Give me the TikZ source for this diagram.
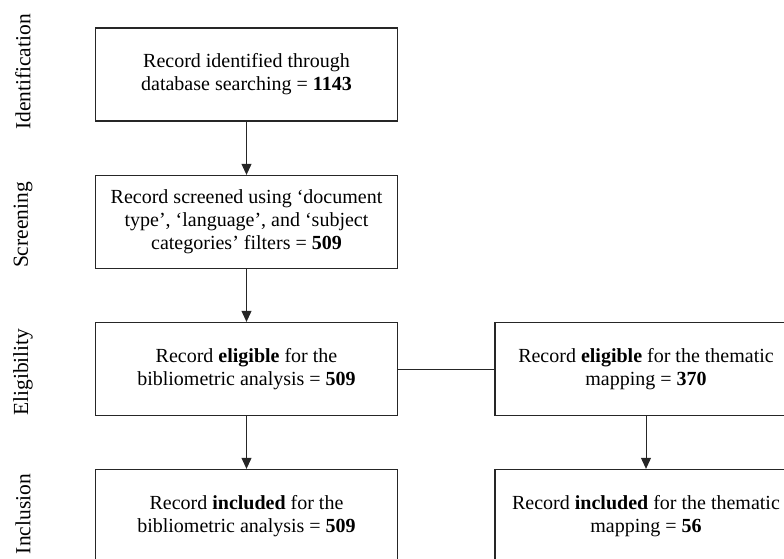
\documentclass[tikz,border=0pt]{standalone}
\usepackage{fontspec}
\setmainfont{Liberation Serif}
\usetikzlibrary{arrows.meta}
\tikzset{
  box/.style={draw=black!85, line width=1.3pt, rectangle, minimum width=302pt, minimum height=93pt, align=center, inner sep=0pt, font=\fontsize{20}{23}\selectfont},
  arr/.style={draw=black!85, line width=0.9pt, -{Triangle[width=10pt,length=11pt]}},
  link/.style={draw=black!85, line width=0.9pt},
  stage/.style={rotate=90, font=\fontsize{21.5}{24}\selectfont, inner sep=0pt}
}
\begin{document}
\begin{tikzpicture}[x=1pt,y=-1pt]
\useasboundingbox (0,0) rectangle (784,559);
\clip (0,0) rectangle (784,559);
\node[box] (b1) at (246.5,74.5) {Record identified through\\database searching = \textbf{1143}};
\node[box] (b2) at (246.5,222) {Record screened using ‘document\\type’, ‘language’, and ‘subject\\categories’ filters = \textbf{509}};
\node[box] (b3) at (246.5,369) {Record \textbf{eligible} for the\\bibliometric analysis = \textbf{509}};
\node[box] (b4) at (246.5,516) {Record \textbf{included} for the\\bibliometric analysis = \textbf{509}};
\node[box] (r3) at (646,369) {Record \textbf{eligible} for the thematic\\mapping = \textbf{370}};
\node[box] (r4) at (646,516) {Record \textbf{included} for the thematic\\mapping = \textbf{56}};
\draw[arr] (b1) -- (b2);
\draw[arr] (b2) -- (b3);
\draw[arr] (b3) -- (b4);
\draw[arr] (r3) -- (r4);
\draw[link] (b3) -- (r3);
\node[stage] (s1) at (23,72) {Identification};
\node[stage] (s2) at (23,225) {Screening};
\node[stage] (s3) at (23,372) {Eligibility};
\node[stage] (s4) at (23,514) {Inclusion};
\end{tikzpicture}
\end{document}
